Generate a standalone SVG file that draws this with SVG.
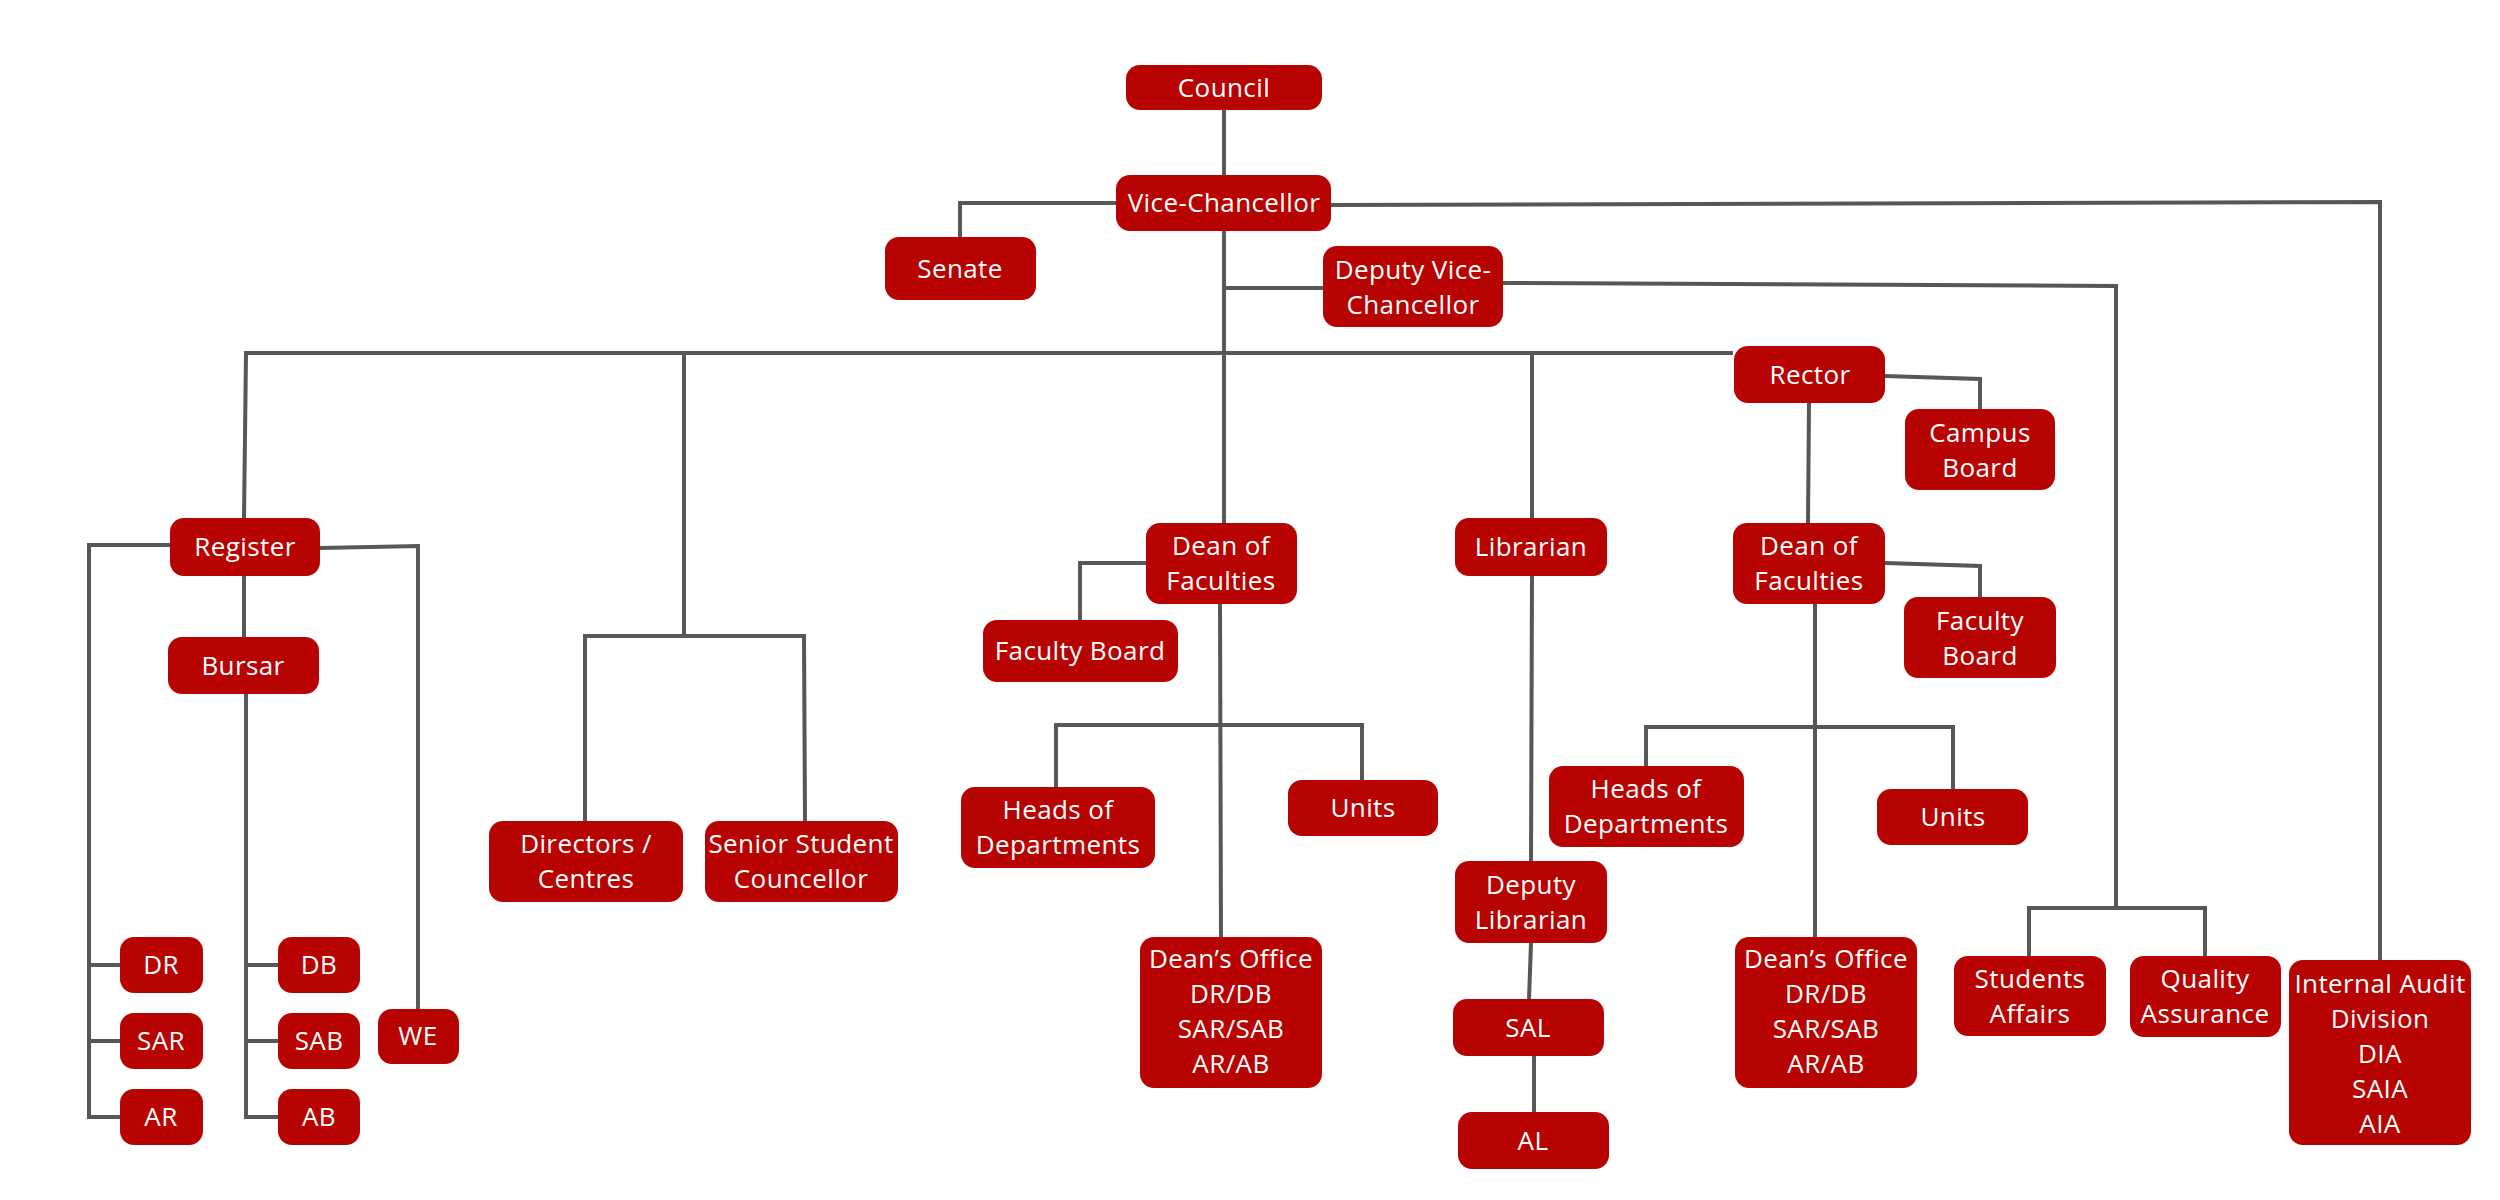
<svg xmlns="http://www.w3.org/2000/svg" width="2500" height="1200" viewBox="0 0 2500 1200">
<style>
.n rect{fill:#b80303;}
.n text{fill:#ffffff;font-family:"Open Sans","Liberation Sans",sans-serif;font-size:26px;letter-spacing:0.4px;text-anchor:middle;}
#connectors path{fill:none;stroke:#575757;stroke-width:4;stroke-linejoin:miter;}
</style>
<rect width="2500" height="1200" fill="#ffffff"/>
<g id="connectors">
<path d="M1224 110 V175"/>
<path d="M1116 203 H960 V237"/>
<path d="M1331 205 L2380 202 V960"/>
<path d="M1224 231 V523"/>
<path d="M1224 288 H1323"/>
<path d="M1503 283 L2116 286 V908"/>
<path d="M2029 956 V908 H2205 V956"/>
<path d="M244 353 H1733"/>
<path d="M246 353 L244 518"/>
<path d="M684 353 V636"/>
<path d="M585 821 V636 H804 L805 821"/>
<path d="M1532 353 V518"/>
<path d="M170 545 H89 V1117 H120"/>
<path d="M89 965 H120"/>
<path d="M89 1041 H120"/>
<path d="M320 548 L418 546 V1009"/>
<path d="M244 576 V637"/>
<path d="M246 694 V1117 H278"/>
<path d="M246 965 H278"/>
<path d="M246 1041 H278"/>
<path d="M1146 563 H1080 V620"/>
<path d="M1220 604 L1221 937"/>
<path d="M1056 787 V725 H1362 V780"/>
<path d="M1532 576 L1531 861"/>
<path d="M1531 943 L1529 999"/>
<path d="M1534 1056 V1112"/>
<path d="M1885 376 L1980 379 V409"/>
<path d="M1809 403 L1808 523"/>
<path d="M1885 563 L1980 566 V597"/>
<path d="M1815 604 V937"/>
<path d="M1646 767 V727 H1953 V789"/>
</g>
<g id="council" class="n"><rect x="1126" y="65" width="196" height="45" rx="14"/><text x="1224" y="97">Council</text></g>
<g id="vice-chancellor" class="n"><rect x="1116" y="175" width="215" height="56" rx="14"/><text x="1224" y="212">Vice-Chancellor</text></g>
<g id="senate" class="n"><rect x="885" y="237" width="151" height="63" rx="14"/><text x="960" y="278">Senate</text></g>
<g id="deputy-vc" class="n"><rect x="1323" y="246" width="180" height="81" rx="14"/><text x="1413" y="279">Deputy Vice-</text><text x="1413" y="314">Chancellor</text></g>
<g id="rector" class="n"><rect x="1734" y="346" width="151" height="57" rx="14"/><text x="1810" y="384">Rector</text></g>
<g id="campus-board" class="n"><rect x="1905" y="409" width="150" height="81" rx="14"/><text x="1980" y="442">Campus</text><text x="1980" y="477">Board</text></g>
<g id="register" class="n"><rect x="170" y="518" width="150" height="58" rx="14"/><text x="245" y="556">Register</text></g>
<g id="bursar" class="n"><rect x="168" y="637" width="151" height="57" rx="14"/><text x="243" y="675">Bursar</text></g>
<g id="dean-left" class="n"><rect x="1146" y="523" width="151" height="81" rx="14"/><text x="1221" y="555">Dean of</text><text x="1221" y="590">Faculties</text></g>
<g id="librarian" class="n"><rect x="1455" y="518" width="152" height="58" rx="14"/><text x="1531" y="556">Librarian</text></g>
<g id="dean-right" class="n"><rect x="1733" y="523" width="152" height="81" rx="14"/><text x="1809" y="555">Dean of</text><text x="1809" y="590">Faculties</text></g>
<g id="faculty-board-left" class="n"><rect x="983" y="620" width="195" height="62" rx="14"/><text x="1080" y="660">Faculty Board</text></g>
<g id="faculty-board-right" class="n"><rect x="1904" y="597" width="152" height="81" rx="14"/><text x="1980" y="630">Faculty</text><text x="1980" y="665">Board</text></g>
<g id="directors-centres" class="n"><rect x="489" y="821" width="194" height="81" rx="14"/><text x="586" y="853">Directors /</text><text x="586" y="888">Centres</text></g>
<g id="senior-student-councellor" class="n"><rect x="705" y="821" width="193" height="81" rx="14"/><text x="801" y="853">Senior Student</text><text x="801" y="888">Councellor</text></g>
<g id="hod-left" class="n"><rect x="961" y="787" width="194" height="81" rx="14"/><text x="1058" y="819">Heads of</text><text x="1058" y="854">Departments</text></g>
<g id="units-left" class="n"><rect x="1288" y="780" width="150" height="56" rx="14"/><text x="1363" y="817">Units</text></g>
<g id="hod-right" class="n"><rect x="1549" y="766" width="195" height="81" rx="14"/><text x="1646" y="798">Heads of</text><text x="1646" y="833">Departments</text></g>
<g id="units-right" class="n"><rect x="1877" y="789" width="151" height="56" rx="14"/><text x="1953" y="826">Units</text></g>
<g id="deputy-librarian" class="n"><rect x="1455" y="861" width="152" height="82" rx="14"/><text x="1531" y="894">Deputy</text><text x="1531" y="929">Librarian</text></g>
<g id="deans-office-left" class="n"><rect x="1140" y="937" width="182" height="151" rx="14"/><text x="1231" y="968">Dean’s Office</text><text x="1231" y="1003">DR/DB</text><text x="1231" y="1038">SAR/SAB</text><text x="1231" y="1073">AR/AB</text></g>
<g id="deans-office-right" class="n"><rect x="1735" y="937" width="182" height="151" rx="14"/><text x="1826" y="968">Dean’s Office</text><text x="1826" y="1003">DR/DB</text><text x="1826" y="1038">SAR/SAB</text><text x="1826" y="1073">AR/AB</text></g>
<g id="sal" class="n"><rect x="1453" y="999" width="151" height="57" rx="14"/><text x="1528" y="1037">SAL</text></g>
<g id="al" class="n"><rect x="1458" y="1112" width="151" height="57" rx="14"/><text x="1533" y="1150">AL</text></g>
<g id="students-affairs" class="n"><rect x="1954" y="956" width="152" height="80" rx="14"/><text x="2030" y="988">Students</text><text x="2030" y="1023">Affairs</text></g>
<g id="quality-assurance" class="n"><rect x="2130" y="956" width="151" height="81" rx="14"/><text x="2205" y="988">Quality</text><text x="2205" y="1023">Assurance</text></g>
<g id="internal-audit" class="n"><rect x="2289" y="960" width="182" height="185" rx="14"/><text x="2380" y="993">Internal Audit</text><text x="2380" y="1028">Division</text><text x="2380" y="1063">DIA</text><text x="2380" y="1098">SAIA</text><text x="2380" y="1133">AIA</text></g>
<g id="dr" class="n"><rect x="120" y="937" width="83" height="56" rx="14"/><text x="161" y="974">DR</text></g>
<g id="sar" class="n"><rect x="120" y="1013" width="83" height="56" rx="14"/><text x="161" y="1050">SAR</text></g>
<g id="ar" class="n"><rect x="120" y="1089" width="83" height="56" rx="14"/><text x="161" y="1126">AR</text></g>
<g id="db" class="n"><rect x="278" y="937" width="82" height="56" rx="14"/><text x="319" y="974">DB</text></g>
<g id="sab" class="n"><rect x="278" y="1013" width="82" height="56" rx="14"/><text x="319" y="1050">SAB</text></g>
<g id="ab" class="n"><rect x="278" y="1089" width="82" height="56" rx="14"/><text x="319" y="1126">AB</text></g>
<g id="we" class="n"><rect x="378" y="1009" width="81" height="55" rx="14"/><text x="418" y="1045">WE</text></g>
</svg>
